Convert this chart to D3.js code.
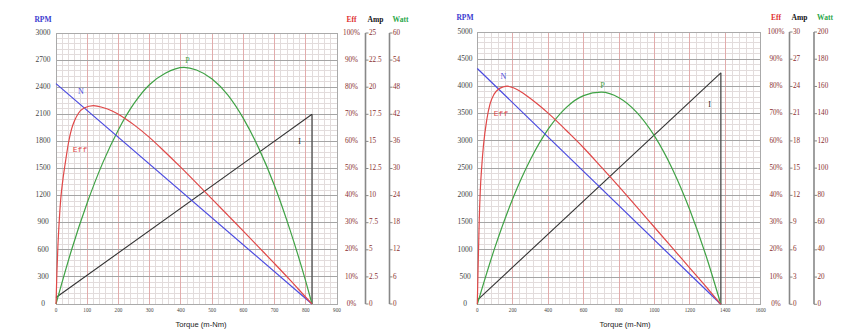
<!DOCTYPE html>
<html><head><meta charset="utf-8">
<script src="https://cdn.jsdelivr.net/npm/d3@7"></script>
<style>html,body{margin:0;padding:0;background:#fff;}svg{display:block;}</style>
</head><body>
<svg id="c" width="861" height="336"></svg>
<script>
// ---------- Left motor ----------
const leftTorqueTicks = [0,100,200,300,400,500,600,700,800,900];
const leftRpmTicks = [0,300,600,900,1200,1500,1800,2100,2400,2700,3000];
const leftEffTicks = [0,10,20,30,40,50,60,70,80,90,100];
const leftAmpTicks = [0,2.5,5,7.5,10,12.5,15,17.5,20,22.5,25];
const leftWattTicks = [0,6,12,18,24,30,36,42,48,54,60];
const leftNTorque = [0, 820];
const leftNRpm = [2440, 0];
const leftITorque = [0, 820];
const leftIAmp = [0.6, 17.5];
const leftPTorque = [0,50,100,150,200,250,300,350,410,450,500,550,600,650,700,750,800,820];
const leftPWatt = [0,12.0,22.4,31.3,38.6,44.4,48.6,51.1,52.4,51.8,49.8,46.3,41.1,34.4,26.2,16.3,5.0,0];
const leftEffTorque = [0,3,6,10,15,22,31,40,50,60,72,90,120,150,180,210,250,300,350,400,450,500,550,600,650,700,750,800,820];
const leftEffPct = [0,12,21,30,38.5,45.8,53,59.5,64.6,67.8,70.4,72.3,73.2,72.5,71.2,69.3,66.1,61.4,56.0,50.4,44.6,38.7,32.8,26.9,20.9,14.9,8.8,2.5,0];

// ---------- Right motor ----------
const rightTorqueTicks = [0,200,400,600,800,1000,1200,1400,1600];
const rightRpmTicks = [0,500,1000,1500,2000,2500,3000,3500,4000,4500,5000];
const rightEffTicks = [0,10,20,30,40,50,60,70,80,90,100];
const rightAmpTicks = [0,3,6,9,12,15,18,21,24,27,30];
const rightWattTicks = [0,20,40,60,80,100,120,140,160,180,200];
const rightNTorque = [0, 1375];
const rightNRpm = [4330, 0];
const rightITorque = [0, 1375];
const rightIAmp = [0.45, 25.5];
const rightPTorque = [0,100,200,300,400,500,600,700,800,900,1000,1100,1200,1300,1375];
const rightPWatt = [0,42.0,77.5,106.3,128.6,144.3,153.3,155.8,151.7,141.0,123.7,99.8,69.3,32.2,0];
const rightEffTorque = [0,4,8,11,17,25,35,53,72,95,119,145,169,200,250,300,350,400,450,500,600,700,800,900,1000,1100,1200,1300,1375];
const rightEffPct = [0,12,23,31,42,50.5,58.5,67.6,73.6,77.2,79.0,79.8,80.1,79.6,77.9,75.6,73.0,70.2,67.2,64.0,57.5,50.4,43.2,35.8,28.3,20.8,13.3,5.8,0];

const svg = d3.select('#c');
const SERIF = '"Liberation Serif","DejaVu Serif",serif';
const SANS = '"Liberation Sans",Arial,sans-serif';
const MONO = '"Liberation Mono","DejaVu Sans Mono",monospace';
const COL = {N:'#4a4ae0', Eff:'#e04848', P:'#3fa245', I:'#333333', lab:'#8a2f2f'};

function drawChart(c) {
  const g = svg.append('g');
  const xMax = c.xTicks[c.xTicks.length-1];
  const x = d3.scaleLinear().domain([0, xMax]).range([c.x0, c.x1]);
  const yR = d3.scaleLinear().domain([0, c.rpmTicks[c.rpmTicks.length-1]]).range([c.yB, c.yT]);
  const yE = d3.scaleLinear().domain([0, 100]).range([c.yB, c.yT]);
  const yA = d3.scaleLinear().domain([0, c.ampTicks[c.ampTicks.length-1]]).range([c.yB, c.yT]);
  const yW = d3.scaleLinear().domain([0, c.wattTicks[c.wattTicks.length-1]]).range([c.yB, c.yT]);

  // minor grid
  const xStep = c.xTicks[1]-c.xTicks[0], yStep = c.rpmTicks[1]-c.rpmTicks[0];
  const xMinor = d3.range(0, xMax + 1e-6, xStep/5);
  const yMinor = d3.range(0, c.rpmTicks[c.rpmTicks.length-1] + 1e-6, yStep/5);
  g.selectAll('.vm').data(xMinor).join('line')
    .attr('x1', d=>x(d)).attr('x2', d=>x(d)).attr('y1', c.yT).attr('y2', c.yB)
    .attr('stroke', '#e2dcdc').attr('stroke-width', 1).attr('shape-rendering','crispEdges');
  g.selectAll('.hm').data(yMinor).join('line')
    .attr('y1', d=>yR(d)).attr('y2', d=>yR(d)).attr('x1', c.x0).attr('x2', c.x1)
    .attr('stroke', '#e2dcdc').attr('stroke-width', 1).attr('shape-rendering','crispEdges');
  // major grid
  g.selectAll('.vM').data(c.xTicks).join('line')
    .attr('x1', d=>x(d)).attr('x2', d=>x(d)).attr('y1', c.yT).attr('y2', c.yB)
    .attr('stroke', '#e2acac').attr('stroke-width', 1).attr('shape-rendering','crispEdges');
  g.selectAll('.hM').data(c.rpmTicks).join('line')
    .attr('y1', d=>yR(d)).attr('y2', d=>yR(d)).attr('x1', c.x0).attr('x2', c.x1)
    .attr('stroke', '#a5a5a5').attr('stroke-width', 1).attr('shape-rendering','crispEdges');
  g.append('rect').attr('x', c.x0).attr('y', c.yT).attr('width', c.x1-c.x0).attr('height', c.yB-c.yT)
    .attr('fill','none').attr('stroke','#aaaaaa').attr('stroke-width',1).attr('shape-rendering','crispEdges');

  // left RPM labels
  g.selectAll('.yl').data(c.rpmTicks).join('text')
    .attr('x', c.rpmLabX).attr('y', d=>yR(d)).attr('text-anchor','middle').attr('dominant-baseline','middle')
    .attr('font-family', SERIF).attr('font-size', 7.5).attr('fill', '#444').text(d=>d);
  // x labels
  g.selectAll('.xl').data(c.xTicks).join('text')
    .attr('x', d=>x(d)).attr('y', c.yB+6.5).attr('text-anchor','middle').attr('dominant-baseline','middle')
    .attr('font-family', SERIF).attr('font-size', 5.2).attr('fill', '#444').text(d=>d);
  g.append('text').attr('x', c.xLabX).attr('y', c.yB+21).attr('text-anchor','middle')
    .attr('dominant-baseline','middle').attr('font-family', SANS).attr('font-size', 7.6).attr('fill','#222')
    .text('Torque (m-Nm)');

  // Eff labels
  g.selectAll('.el').data(c.effTicks).join('text')
    .attr('x', c.effX).attr('y', d=>yE(d)).attr('text-anchor','middle').attr('dominant-baseline','middle')
    .attr('font-family', SERIF).attr('font-size', 7.2).attr('fill', COL.lab).text(d=>d+'%');

  // Amp & Watt axes
  function sideAxis(xPos, scale, ticks) {
    g.append('line').attr('x1', xPos).attr('x2', xPos).attr('y1', scale(ticks[0])).attr('y2', scale(ticks[ticks.length-1]))
      .attr('stroke', '#888').attr('stroke-width', 1.6);
    g.selectAll(null).data(ticks).join('line')
      .attr('x1', xPos).attr('x2', xPos+3).attr('y1', d=>scale(d)).attr('y2', d=>scale(d))
      .attr('stroke', '#888').attr('stroke-width', 1);
    g.selectAll(null).data(ticks).join('text')
      .attr('x', xPos+3.5).attr('y', d=>scale(d)).attr('dominant-baseline','middle')
      .attr('font-family', SERIF).attr('font-size', 7.2).attr('fill', COL.lab).text(d=>d);
  }
  sideAxis(c.ampX, yA, c.ampTicks);
  sideAxis(c.wattX, yW, c.wattTicks);

  // titles
  const tY = c.titleY;
  const title = (tx, txt, col) => g.append('text').attr('x', tx).attr('y', tY).attr('text-anchor','middle')
    .attr('dominant-baseline','middle').attr('font-family', SERIF).attr('font-weight','bold')
    .attr('font-size', 7.5).attr('fill', col).text(txt);
  title(c.rpmLabX, 'RPM', '#3b3bd0');
  title(c.effX, 'Eff', '#e03030');
  title(c.ampX+10, 'Amp', '#111');
  title(c.wattX+11, 'Watt', '#2aa84a');

  // curves
  const line = (xs, ys, sy, curve) => d3.line().curve(curve)
    .x((d,i)=>x(xs[i])).y((d,i)=>sy(ys[i]))(xs);
  const plot = (dstr, col, w) => g.append('path').attr('d', dstr).attr('fill','none')
    .attr('stroke', col).attr('stroke-width', w||1.2).attr('stroke-linejoin','round');
  // stall line
  const sT = c.iTorque[c.iTorque.length-1], sA = c.iAmp[c.iAmp.length-1];
  g.append('line').attr('x1', x(sT)).attr('x2', x(sT)).attr('y1', yA(sA)).attr('y2', yA(0))
    .attr('stroke', '#555').attr('stroke-width', 1.4);
  plot(line(c.iTorque, c.iAmp, yA, d3.curveLinear), COL.I, 1.1);
  plot(line(c.pTorque, c.pWatt, yW, d3.curveMonotoneX), COL.P, 1.2);
  plot(line(c.nTorque, c.nRpm, yR, d3.curveLinear), COL.N, 1.2);
  plot(line(c.effTorque, c.effPct, yE, d3.curveMonotoneX), COL.Eff, 1.2);

  // curve labels
  const lab = (p, txt, col, fam, fs) => g.append('text').attr('x', p[0]).attr('y', p[1]).attr('text-anchor','middle')
    .attr('dominant-baseline','middle').attr('font-family', fam).attr('font-size', fs).attr('fill', col).text(txt);
  lab(c.labN, 'N', COL.N, SERIF, 8);
  lab(c.labP, 'P', COL.P, SERIF, 8);
  lab(c.labEff, 'Eff', COL.Eff, MONO, 8);
  lab(c.labI, 'I', '#222', SERIF, 8);
}

drawChart({
  x0:56, x1:337, yT:33, yB:304, rpmLabX:43, xLabX:201, effX:351.5, ampX:365.5, wattX:389.5, titleY:20,
  xTicks:leftTorqueTicks, rpmTicks:leftRpmTicks, effTicks:leftEffTicks, ampTicks:leftAmpTicks, wattTicks:leftWattTicks,
  nTorque:leftNTorque, nRpm:leftNRpm, iTorque:leftITorque, iAmp:leftIAmp,
  pTorque:leftPTorque, pWatt:leftPWatt, effTorque:leftEffTorque, effPct:leftEffPct,
  labN:[81,92], labP:[187.5,61], labEff:[80,149.5], labI:[299.5,142]
});
drawChart({
  x0:477.3, x1:760.7, yT:32, yB:304.3, rpmLabX:465, xLabX:625, effX:776, ampX:789.5, wattX:814, titleY:18,
  xTicks:rightTorqueTicks, rpmTicks:rightRpmTicks, effTicks:rightEffTicks, ampTicks:rightAmpTicks, wattTicks:rightWattTicks,
  nTorque:rightNTorque, nRpm:rightNRpm, iTorque:rightITorque, iAmp:rightIAmp,
  pTorque:rightPTorque, pWatt:rightPWatt, effTorque:rightEffTorque, effPct:rightEffPct,
  labN:[503.5,77.5], labP:[602.5,86], labEff:[501,114], labI:[709.5,105.5]
});
</script>
</body></html>
